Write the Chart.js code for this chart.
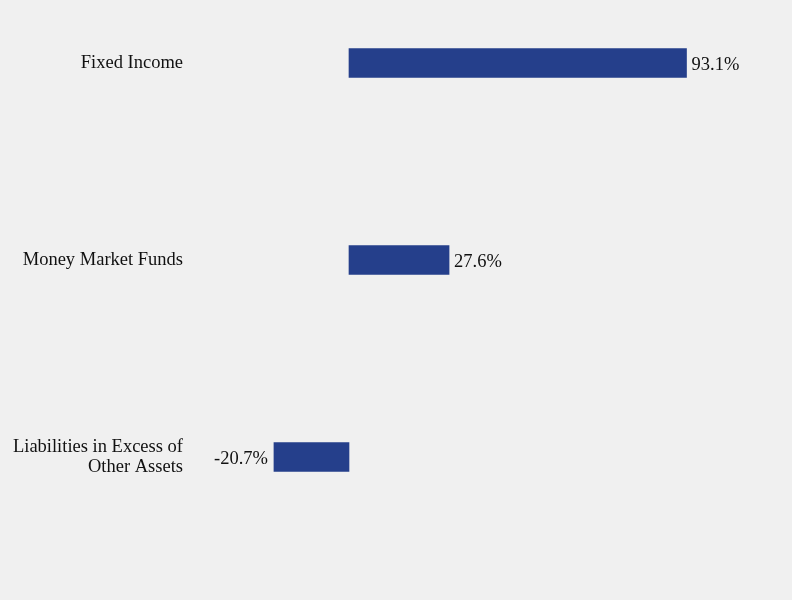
<!DOCTYPE html>
<html>
<head>
<meta charset="utf-8">
<script src="https://cdn.jsdelivr.net/npm/chart.js@4/dist/chart.umd.min.js"></script>
<style>
  html, body { margin: 0; padding: 0; background: #f0f0f0; }
  #wrap { width: 792px; height: 600px; }
</style>
</head>
<body>
<div id="wrap"><canvas id="chart"></canvas></div>
<script>
// ---------- data ----------
const categories = ['Fixed Income', 'Money Market Funds', ['Liabilities in Excess of', 'Other Assets']];
const values = [93.1, 27.6, -20.7];
const valueLabels = ['93.1%', '27.6%', '-20.7%'];

const FONT = '"Liberation Serif", "Times New Roman", serif';
const BAR_COLOR = '#253f8b';

// label nilai di ujung bar
const endLabels = {
  id: 'endLabels',
  afterDatasetsDraw(chart) {
    const ctx = chart.ctx;
    const meta = chart.getDatasetMeta(0);
    ctx.save();
    ctx.font = '18.5px ' + FONT;
    ctx.fillStyle = '#111';
    ctx.textBaseline = 'middle';
    meta.data.forEach((bar, i) => {
      const v = values[i];
      if (v >= 0) {
        ctx.textAlign = 'left';
        ctx.fillText(valueLabels[i], bar.x + 5, bar.y + 2);
      } else {
        ctx.textAlign = 'right';
        ctx.fillText(valueLabels[i], bar.x - 6, bar.y + 2);
      }
    });
    ctx.restore();
  },
};

new Chart(document.getElementById('chart'), {
  type: 'bar',
  data: {
    labels: categories,
    datasets: [{
      data: values,
      backgroundColor: BAR_COLOR,
      borderWidth: 0,
      barThickness: 29,
      clip: false,
    }],
  },
  options: {
    indexAxis: 'y',
    responsive: true,
    maintainAspectRatio: false,
    animation: false,
    layout: { padding: { top: 63, bottom: 143, right: 0, left: 0 } },
    plugins: { legend: { display: false }, tooltip: { enabled: false } },
    scales: {
      x: {
        display: false,
        min: -41.1,
        max: 122.2,
      },
      y: {
        offset: false,
        grid: { display: false },
        border: { display: false },
        ticks: {
          color: '#111',
          padding: 9,
          font: { family: FONT, size: 18.5, lineHeight: 1.05 },
        },
        afterFit(scale) { scale.width = 200; },
      },
    },
  },
  plugins: [endLabels],
});
</script>
</body>
</html>
